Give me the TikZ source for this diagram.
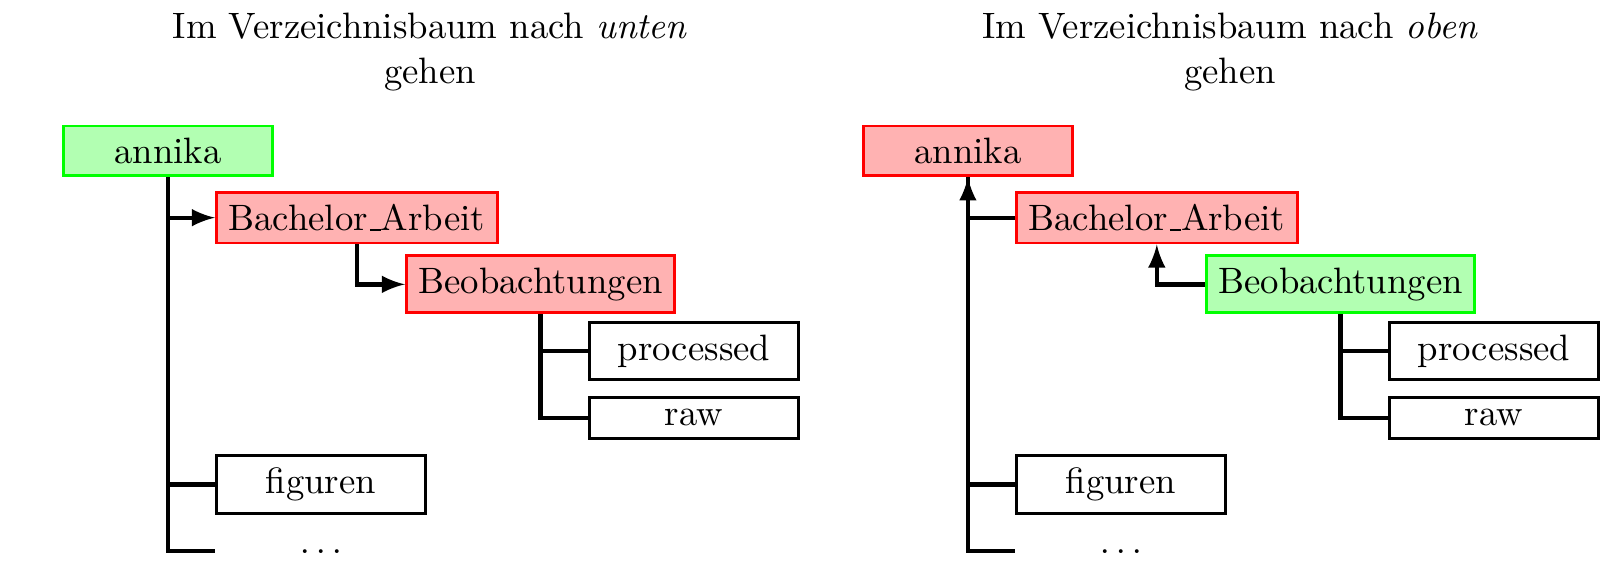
\documentclass[tikz,border=0pt]{standalone}
\usetikzlibrary{arrows, positioning}

\newcommand\unterstrich{\leavevmode\kern.06em\vbox{\hrule width.3em}}

\tikzset{
    every node/.style={font=\fontsize{10.2}{12.5}\selectfont},
    ordner/.style={draw, thick, minimum width=2.04cm, anchor=west},
    hier/.style={ordner, draw=green, fill=green!30},
    weg/.style={ordner, draw=red, fill=red!30},
    leer/.style={ordner, draw=none},
    ast/.style={very thick},
    pfeil/.style={very thick, -latex},
    titel/.style={align=center, anchor=north}
}

\begin{document}
\begin{tikzpicture}
    \useasboundingbox (0,0) rectangle (15.62,-5.516);

    % nach unten
    \node[titel] (titelU) at (4.198,0) {Im Verzeichnisbaum nach \emph{unten}\\gehen};
    \node[hier] (uAnnika) at (0.605,-1.474) {annika};
    \node[weg] (uBachelor) at (2.099,-2.125) {Bachelor\unterstrich Arbeit};
    \node[weg] (uBeob) at (3.954,-2.776) {Beobachtungen};
    \node[ordner] (uProc) at (5.741,-3.427) {processed};
    \node[ordner] (uRaw) at (5.741,-4.078) {raw};
    \node[ordner] (uFig) at (2.099,-4.729) {figuren};
    \node[leer] (uDots) at (2.099,-5.380) {$\dots$};

    \draw[pfeil] (uAnnika.south) |- (uBachelor.west);
    \draw[pfeil] (uBachelor.south) |- (uBeob.west);
    \draw[ast] (uBeob.south) |- (uProc.west);
    \draw[ast] (uBeob.south) |- (uRaw.west);
    \draw[ast] (uAnnika.south) |- (uFig.west);
    \draw[ast] (uAnnika.south) |- (uDots.west);

    % nach oben
    \node[titel] (titelO) at (12.008,0) {Im Verzeichnisbaum nach \emph{oben}\\gehen};
    \node[weg] (oAnnika) at (8.415,-1.474) {annika};
    \node[weg] (oBachelor) at (9.909,-2.125) {Bachelor\unterstrich Arbeit};
    \node[hier] (oBeob) at (11.764,-2.776) {Beobachtungen};
    \node[ordner] (oProc) at (13.551,-3.427) {processed};
    \node[ordner] (oRaw) at (13.551,-4.078) {raw};
    \node[ordner] (oFig) at (9.909,-4.729) {figuren};
    \node[leer] (oDots) at (9.909,-5.380) {$\dots$};

    \draw[ast] (oBeob.south) |- (oProc.west);
    \draw[ast] (oBeob.south) |- (oRaw.west);
    \draw[ast] (oAnnika.south) |- (oFig.west);
    \draw[ast] (oAnnika.south) |- (oDots.west);
    \draw[pfeil] (oBeob.west) -| (oBachelor.south);
    \draw[pfeil] (oBachelor.west) -| (oAnnika.south);
\end{tikzpicture}
\end{document}
